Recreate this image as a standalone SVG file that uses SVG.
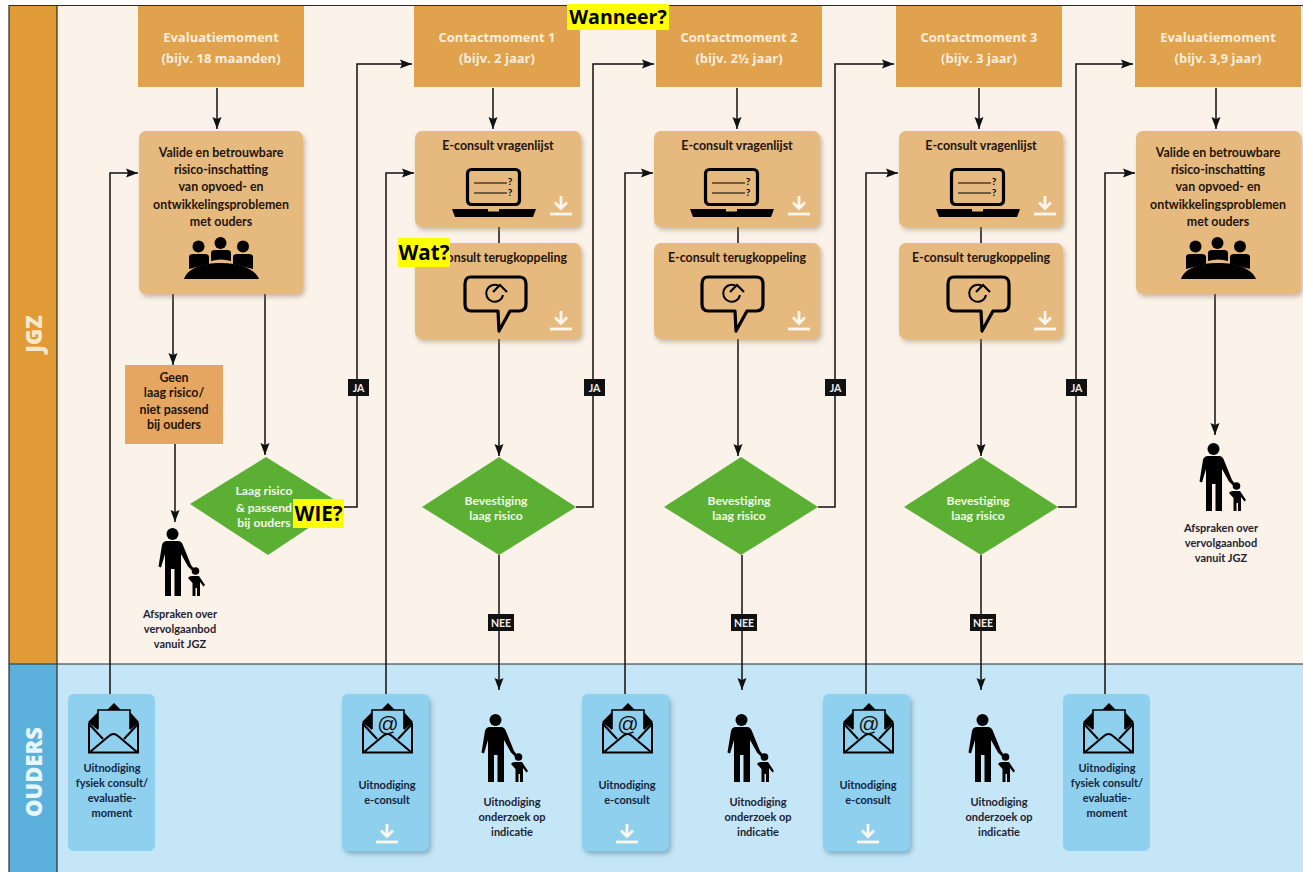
<svg xmlns="http://www.w3.org/2000/svg" width="1303" height="872" viewBox="0 0 1303 872">
<style>
text{font-family:Lato,"Open Sans","Liberation Sans",sans-serif;font-weight:700;text-anchor:middle}
.hd{fill:#e0a24c}
.hdt{fill:#fbeedd;font-size:13px;font-family:"Open Sans",Lato,sans-serif}
.card{fill:#e6b97f;filter:url(#sh)}
.ct{fill:#23140c;font-size:12.4px}
.dia{fill:#5bb033}
.dt{fill:#f1f8ea;font-size:12.2px}
.oc{fill:#8fd0ee}
.oc2{fill:#8fd0ee;filter:url(#sh2)}
.ot{fill:#14263f;font-size:11px}
.pt{fill:#1e2433;font-size:11px}
.ln{fill:none;stroke:#111;stroke-width:1.5}
.ar{marker-end:url(#a)}
.tag{fill:#111}
.tagt{fill:#eee;font-size:10.500px}
.yb{fill:#ffff00}
.yt{fill:#000;font-family:"Open Sans","Noto Sans",sans-serif;font-weight:700}
.lane{font-size:22px;font-weight:900;font-family:"Open Sans",Lato,sans-serif}
.at{font-size:21px;fill:#111;font-weight:400;font-family:"Liberation Sans",sans-serif}
.q{font-size:10px;fill:#000}
.wl{fill:none;stroke:#fdf6ec;stroke-width:2.800}
</style>
<defs>
<filter id="sh" x="-10%" y="-10%" width="125%" height="125%"><feDropShadow dx="2" dy="3" stdDeviation="2.5" flood-color="#8a7050" flood-opacity=".45"/></filter>
<filter id="sh2" x="-10%" y="-10%" width="125%" height="125%"><feDropShadow dx="2" dy="3" stdDeviation="2.5" flood-color="#4a7f9c" flood-opacity=".55"/></filter>
<marker id="a" markerUnits="userSpaceOnUse" markerWidth="13" markerHeight="12" refX="12" refY="5" orient="auto"><path d="M0 0.500L12 5L0 9.500L2 5Z" fill="#111"/></marker>
<symbol id="person" width="48" height="72" viewBox="0 0 48 72" overflow="visible">
<circle cx="14.500" cy="6" r="6"/>
<path d="M9 13H20Q23 13 24.500 16L33 37L37 42L35.500 44L30 38.500L23 26V68H16.500V41H13V68H7V26L3 39.500L0.500 38.500L4 17Q5 13 9 13Z"/>
<circle cx="37.500" cy="43" r="3.800"/>
<path d="M34 48H41L47 57L45.500 58.500L42 54V68H39V60H37.500V68H34.500V55L30 50L31.500 48.500Z"/>
</symbol>
<symbol id="env" width="54" height="54" viewBox="0 0 54 54" overflow="visible">
<path d="M26 0L33 7H19Z"/><path d="M0 19L10 9V27Z"/><path d="M51 19L42 9V27Z"/>
<path d="M10 26V7H42V26" fill="none" stroke="#000" stroke-width="1.600"/>
<path d="M1 20V49.500H50V20M2 49L21 33Q25.500 29 30 33L49 49M1 21L15 36M50 21L36 36" fill="none" stroke="#000" stroke-width="2"/>
</symbol>
<symbol id="dl" width="30" height="24" viewBox="0 0 30 24" overflow="visible">
<path d="M15 2V13M9 8.500L15 14.500L21 8.500" class="wl"/><path d="M4 20H26" class="wl"/>
</symbol>
<symbol id="laptop" width="100" height="54" viewBox="0 0 100 54" overflow="visible">
<rect x="15.500" y="2.500" width="52" height="35" rx="4" fill="none" stroke="#000" stroke-width="3.200"/>
<path d="M22 16H55M22 26H55" stroke="#000" stroke-width="1.200"/>
<text class="q" x="58" y="18">?</text><text class="q" x="58" y="29">?</text>
<path d="M0 42H84L81 50H3Z"/><rect x="36" y="42" width="11" height="2.500" fill="#e6b97f"/>
</symbol>
<symbol id="bubble" width="70" height="60" viewBox="0 0 70 60" overflow="visible">
<path d="M8 2H56Q63 2 63 9V29Q63 36 56 36H47L36 56L35 36H8Q2 36 2 29V9Q2 2 8 2Z" fill="none" stroke="#000" stroke-width="3.200" stroke-linejoin="round"/>
<path d="M36 11A8.500 8.500 0 1 0 40 20" fill="none" stroke="#000" stroke-width="2"/>
<path d="M30 17L37 10L44 17" fill="none" stroke="#000" stroke-width="2.200"/>
</symbol>
<symbol id="meet" width="80" height="46" viewBox="0 0 80 46" overflow="visible">
<circle cx="14.500" cy="8.500" r="6"/><circle cx="36.500" cy="5" r="6"/><circle cx="59" cy="8.500" r="6"/>
<path d="M5 19Q5 16 9 16H21Q25 16 25 19V26L5 31Z"/><path d="M27 15Q27 12 31 12H43Q47 12 47 15V23Q37 20 27 23Z"/><path d="M49 19Q49 16 53 16H65Q69 16 69 19V31L49 26Z"/>
<path d="M0 41C3 31 18 25 37 25C56 25 71 31 75 41Z"/>
</symbol>
</defs>

<rect width="1303" height="872" fill="#fff"/>
<g id="lanes">
<rect x="57" y="6" width="1246" height="658" fill="#fbf3ea"/>
<rect x="57" y="664" width="1246" height="208" fill="#c5e6f7"/>
<rect x="9" y="6" width="48" height="658" fill="#e09a36"/>
<rect x="9" y="664" width="48" height="208" fill="#5bb1dc"/>
<path d="M9 872V5.500H1303M57 5V872M9 664H1303" fill="none" stroke="#2b2b2b" stroke-width="1.200"/>
<text class="lane" transform="translate(42 334) rotate(-90)" fill="#f7e6c8">JGZ</text>
<text class="lane" transform="translate(42 772) rotate(-90)" fill="#e8f6fd">OUDERS</text>
</g>

<g id="connectors">
<path class="ln ar" d="M217 88V129"/><path class="ln ar" d="M493 88V129"/><path class="ln ar" d="M737 88V129"/><path class="ln ar" d="M979 88V129"/><path class="ln ar" d="M1216 88V129"/>
<path class="ln ar" d="M173 294V365"/><path class="ln ar" d="M265 294V455"/><path class="ln ar" d="M175 444V522"/><path class="ln ar" d="M1215 294V435"/>
<path class="ln ar" d="M340 507H357V64H412"/><path class="ln ar" d="M576 507H593V64H654"/><path class="ln ar" d="M818 507H835V64H894"/><path class="ln ar" d="M1058 507H1076V64H1133"/>
<path class="ln ar" d="M110 694V173H138"/><path class="ln ar" d="M386 694V173H414"/><path class="ln ar" d="M625 694V173H653"/><path class="ln ar" d="M866 694V173H898"/><path class="ln ar" d="M1105 694V173H1135"/>
<path class="ln" d="M499 227V243"/><path class="ln" d="M738 227V243"/><path class="ln" d="M981 227V243"/>
<path class="ln ar" d="M499 339V456"/><path class="ln ar" d="M738 339V456"/><path class="ln ar" d="M981 339V456"/>
<path class="ln ar" d="M499 555V690"/><path class="ln ar" d="M742 555V690"/><path class="ln ar" d="M981 555V690"/>
<g id="tags">
<rect class="tag" x="348" y="379" width="21" height="17"/><text class="tagt" x="358.500" y="391.500">JA</text>
<rect class="tag" x="584" y="379" width="21" height="17"/><text class="tagt" x="594.500" y="391.500">JA</text>
<rect class="tag" x="825" y="379" width="21" height="17"/><text class="tagt" x="835.500" y="391.500">JA</text>
<rect class="tag" x="1066" y="379" width="21" height="17"/><text class="tagt" x="1076.500" y="391.500">JA</text>
<rect class="tag" x="488" y="614" width="26" height="17"/><text class="tagt" x="501" y="626.500">NEE</text>
<rect class="tag" x="731" y="614" width="26" height="17"/><text class="tagt" x="744" y="626.500">NEE</text>
<rect class="tag" x="970" y="614" width="26" height="17"/><text class="tagt" x="983" y="626.500">NEE</text>
</g>
</g>

<g id="h1"><rect class="hd" x="138" y="6" width="166" height="81"/><text class="hdt" x="221" y="42">Evaluatiemoment</text><text class="hdt" x="221" y="63">(bijv. 18 maanden)</text></g>
<g id="h2"><rect class="hd" x="414" y="6" width="166" height="81"/><text class="hdt" x="497" y="42">Contactmoment 1</text><text class="hdt" x="497" y="63">(bijv. 2 jaar)</text></g>
<g id="h3"><rect class="hd" x="656" y="6" width="166" height="81"/><text class="hdt" x="739" y="42">Contactmoment 2</text><text class="hdt" x="739" y="63">(bijv. 2½ jaar)</text></g>
<g id="h4"><rect class="hd" x="896" y="6" width="166" height="81"/><text class="hdt" x="979" y="42">Contactmoment 3</text><text class="hdt" x="979" y="63">(bijv. 3 jaar)</text></g>
<g id="h5"><rect class="hd" x="1135" y="6" width="166" height="81"/><text class="hdt" x="1218" y="42">Evaluatiemoment</text><text class="hdt" x="1218" y="63">(bijv. 3,9 jaar)</text></g>

<g id="risk1"><rect class="card" x="139" y="131" width="164" height="163" rx="7"/>
<text class="ct" x="221" y="157">Valide en betrouwbare</text><text class="ct" x="221" y="174">risico-inschatting</text><text class="ct" x="221" y="191">van opvoed- en</text><text class="ct" x="221" y="209">ontwikkelingsproblemen</text><text class="ct" x="221" y="226">met ouders</text>
<use href="#meet" x="184" y="238"/></g>
<g id="risk2"><rect class="card" x="1136" y="131" width="165" height="163" rx="7"/>
<text class="ct" x="1218" y="157">Valide en betrouwbare</text><text class="ct" x="1218" y="174">risico-inschatting</text><text class="ct" x="1218" y="191">van opvoed- en</text><text class="ct" x="1218" y="209">ontwikkelingsproblemen</text><text class="ct" x="1218" y="226">met ouders</text>
<use href="#meet" x="1181" y="238"/></g>

<g id="q1"><rect class="card" x="415" y="131" width="166" height="96" rx="7"/><text class="ct" x="498" y="150">E-consult vragenlijst</text><use href="#laptop" x="452" y="167"/><use href="#dl" x="546" y="194"/></g>
<g id="t1"><rect class="card" x="415" y="243" width="166" height="96" rx="7"/><text class="ct" x="498" y="262">E-consult terugkoppeling</text><use href="#bubble" x="463" y="275"/><use href="#dl" x="546" y="309"/></g>
<g id="q2"><rect class="card" x="654" y="131" width="166" height="96" rx="7"/><text class="ct" x="737" y="150">E-consult vragenlijst</text><use href="#laptop" x="690" y="167"/><use href="#dl" x="784" y="194"/></g>
<g id="t2"><rect class="card" x="654" y="243" width="166" height="96" rx="7"/><text class="ct" x="737" y="262">E-consult terugkoppeling</text><use href="#bubble" x="700" y="275"/><use href="#dl" x="784" y="309"/></g>
<g id="q3"><rect class="card" x="899" y="131" width="164" height="96" rx="7"/><text class="ct" x="981" y="150">E-consult vragenlijst</text><use href="#laptop" x="936" y="167"/><use href="#dl" x="1030" y="194"/></g>
<g id="t3"><rect class="card" x="899" y="243" width="164" height="96" rx="7"/><text class="ct" x="981" y="262">E-consult terugkoppeling</text><use href="#bubble" x="946" y="275"/><use href="#dl" x="1030" y="309"/></g>

<g id="geen"><rect x="125" y="365" width="98" height="79" fill="#e5a662"/>
<text class="ct" x="174" y="382">Geen</text><text class="ct" x="174" y="397">laag risico/</text><text class="ct" x="174" y="414">niet passend</text><text class="ct" x="174" y="429">bij ouders</text></g>

<g id="d0"><path class="dia" d="M190 504L266 457L343 505L268 555Z"/><text class="dt" x="264" y="495">Laag risico</text><text class="dt" x="264" y="512">&amp; passend</text><text class="dt" x="264" y="527">bij ouders</text></g>
<g id="d1"><path class="dia" d="M422 507L499 457L576 507L499 555Z"/><text class="dt" x="496" y="505">Bevestiging</text><text class="dt" x="496" y="520">laag risico</text></g>
<g id="d2"><path class="dia" d="M664 507L741 457L818 507L741 555Z"/><text class="dt" x="739" y="505">Bevestiging</text><text class="dt" x="739" y="520">laag risico</text></g>
<g id="d3"><path class="dia" d="M904 507L981 457L1058 507L981 555Z"/><text class="dt" x="978" y="505">Bevestiging</text><text class="dt" x="978" y="520">laag risico</text></g>

<g id="p1"><use href="#person" x="158" y="528"/><text class="pt" x="180" y="618">Afspraken over</text><text class="pt" x="180" y="633">vervolgaanbod</text><text class="pt" x="180" y="648">vanuit JGZ</text></g>
<g id="p2"><use href="#person" x="1199" y="443"/><text class="pt" x="1221" y="532">Afspraken over</text><text class="pt" x="1221" y="547">vervolgaanbod</text><text class="pt" x="1221" y="562">vanuit JGZ</text></g>
<g id="p3"><use href="#person" x="481" y="714"/><text class="pt" x="512" y="806">Uitnodiging</text><text class="pt" x="512" y="821">onderzoek op</text><text class="pt" x="512" y="836">indicatie</text></g>
<g id="p4"><use href="#person" x="727" y="714"/><text class="pt" x="758" y="806">Uitnodiging</text><text class="pt" x="758" y="821">onderzoek op</text><text class="pt" x="758" y="836">indicatie</text></g>
<g id="p5"><use href="#person" x="968" y="714"/><text class="pt" x="999" y="806">Uitnodiging</text><text class="pt" x="999" y="821">onderzoek op</text><text class="pt" x="999" y="836">indicatie</text></g>

<g id="o1"><rect class="oc" x="68" y="694" width="87" height="157" rx="6"/><use href="#env" x="88" y="703"/><text class="ot" x="112" y="772">Uitnodiging</text><text class="ot" x="112" y="787">fysiek consult/</text><text class="ot" x="112" y="802">evaluatie-</text><text class="ot" x="112" y="817">moment</text></g>
<g id="o2"><rect class="oc2" x="342" y="694" width="87" height="157" rx="6"/><use href="#env" x="362" y="703"/><text class="at" x="388" y="731">@</text><text class="ot" x="387" y="789">Uitnodiging</text><text class="ot" x="387" y="804">e-consult</text><use href="#dl" x="372" y="822"/></g>
<g id="o3"><rect class="oc2" x="582" y="694" width="87" height="157" rx="6"/><use href="#env" x="602" y="703"/><text class="at" x="628" y="731">@</text><text class="ot" x="627" y="789">Uitnodiging</text><text class="ot" x="627" y="804">e-consult</text><use href="#dl" x="612" y="822"/></g>
<g id="o4"><rect class="oc2" x="823" y="694" width="87" height="157" rx="6"/><use href="#env" x="843" y="703"/><text class="at" x="869" y="731">@</text><text class="ot" x="868" y="789">Uitnodiging</text><text class="ot" x="868" y="804">e-consult</text><use href="#dl" x="853" y="822"/></g>
<g id="o5"><rect class="oc" x="1063" y="694" width="87" height="157" rx="6"/><use href="#env" x="1083" y="703"/><text class="ot" x="1107" y="772">Uitnodiging</text><text class="ot" x="1107" y="787">fysiek consult/</text><text class="ot" x="1107" y="802">evaluatie-</text><text class="ot" x="1107" y="817">moment</text></g>

<g id="wanneer"><rect class="yb" x="567" y="4" width="102" height="26"/><text class="yt" x="618" y="24" style="font-size:19.500px">Wanneer?</text></g>
<g id="wat"><rect class="yb" x="398" y="238" width="52" height="29"/><text class="yt" x="424" y="260" style="font-size:20.500px">Wat?</text></g>
<g id="wie"><rect class="yb" x="293" y="499" width="51" height="29"/><text class="yt" x="318.500" y="521" style="font-size:20.500px">WIE?</text></g>
</svg>
